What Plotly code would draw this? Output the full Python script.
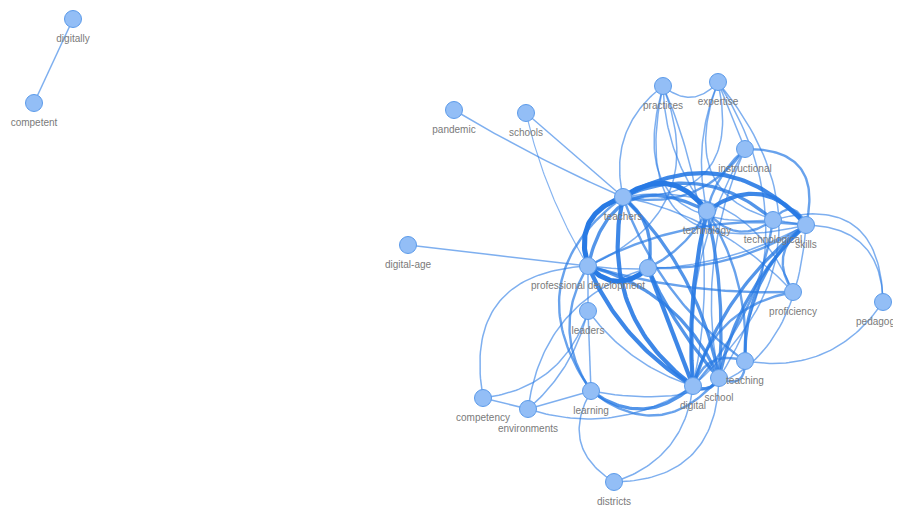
import numpy as np
import plotly.graph_objects as go

# Node layout (positions)
node_names = ["digitally", "competent", "pandemic", "schools", "practices", "expertise",
              "instructional", "teachers", "technology", "technological", "skills",
              "digital-age", "professional", "development", "proficiency", "pedagogical",
              "leaders", "teaching", "school", "digital", "learning", "competency",
              "environments", "districts"]
node_x = [72, 33, 453, 525, 662, 717, 744, 622, 706, 772, 805, 407, 587, 647, 792, 882,
          587, 744, 718, 692, 590, 482, 527, 613]
node_y = [18, 102, 109, 112, 85, 81, 148, 196, 210, 219, 224, 244, 265, 267, 291, 301,
          310, 360, 377, 385, 390, 397, 408, 481]
node_labels = ["digitally", "competent", "pandemic", "schools", "practices", "expertise",
               "instructional", "teachers", "technology", "technological", "skills",
               "digital-age", "professional development", "", "proficiency", "pedagogical",
               "leaders", "teaching", "school", "digital", "learning", "competency",
               "environments", "districts"]

# Edges: source, target, weight, curvature
edge_src = ["digitally", "pandemic", "schools", "schools", "digital-age", "competency",
            "competency", "environments", "environments", "environments", "environments",
            "learning", "digital", "school", "learning", "learning", "learning", "learning",
            "leaders", "leaders", "leaders", "professional", "professional", "professional",
            "professional", "professional", "professional", "professional", "development",
            "development", "development", "development", "development", "teachers",
            "teachers", "teachers", "teachers", "teachers", "teachers", "technology",
            "technology", "technology", "technology", "technology", "skills", "skills",
            "skills", "skills", "skills", "technological", "proficiency", "proficiency",
            "digital", "digital", "school", "pedagogical", "pedagogical", "pedagogical",
            "practices", "practices", "practices", "practices", "practices", "practices",
            "expertise", "expertise", "expertise", "expertise", "expertise",
            "instructional", "instructional", "instructional", "instructional",
            "instructional", "competency", "practices", "expertise", "learning",
            "professional", "teachers"]
edge_tgt = ["competent", "teachers", "teachers", "professional", "professional",
            "environments", "professional", "learning", "leaders", "digital",
            "development", "districts", "districts", "districts", "digital",
            "professional", "teachers", "school", "professional", "digital", "learning",
            "development", "teachers", "digital", "school", "technology", "skills",
            "proficiency", "digital", "school", "teachers", "technology", "skills",
            "technology", "skills", "digital", "school", "teaching", "technological",
            "skills", "digital", "school", "technological", "teaching", "digital",
            "school", "teaching", "proficiency", "technological", "digital", "digital",
            "teachers", "school", "teaching", "teaching", "skills", "teaching",
            "technological", "expertise", "teachers", "technology", "digital", "skills",
            "professional", "instructional", "technology", "skills", "teachers", "school",
            "teachers", "technology", "skills", "digital", "school", "leaders",
            "technological", "digital", "skills", "skills", "proficiency"]
edge_w = [1, 1, 1, 0.6, 1, 1, 1, 1, 1, 1, 1, 1, 1, 1, 3, 2, 2, 2, 1, 1, 1, 5, 5, 4, 3, 3,
          2, 2, 4, 3, 3, 2, 2, 5, 4, 4, 3, 2, 3, 4, 4, 3, 2, 2, 3, 3, 3, 2, 2, 2, 2, 1, 3,
          2, 2, 1, 1, 1, 1, 1, 1, 1, 1, 1, 1, 1, 1, 1, 1, 2, 2, 2, 1, 1, 1,
          1, 1, 1, 1, 1]
edge_c = [0, 0.02, 0, 0.05, 0, 0, -0.35, 0, 0.1, 0.15, -0.2, 0.3, -0.2, -0.3, 0.25, -0.2,
          -0.3, 0.3, 0, 0.1, 0, 0.3, -0.3, 0.1, -0.15, -0.4, -0.1, 0.05, 0, 0.05, 0.2, 0.1,
          0.1, -0.3, -0.25, 0.2, -0.1, 0.1, -0.2, -0.3, 0.05, -0.05, 0.3, -0.1, 0.1, 0.1,
          0.15, 0.3, 0.5, -0.1, 0.2, 0.1, 0.3, -0.3, 0.5, 0.3, -0.2, 0.4, 0.3, 0.2, 0.1,
          -0.1, 0.5, -0.3, 0, 0.1, 0.4, -0.4, -0.2, -0.2, 0.1, -0.4, 0.1, 0.1, 0.2,
          0.45, -0.3, 0.35, 0.1, -0.25]
curve_gain = 1.6
label_gap = 20

pos = {n: (x, y) for n, x, y in zip(node_names, node_x, node_y)}

fig = go.Figure()
t = np.linspace(0, 1, 50)
for s, d, w, c in zip(edge_src, edge_tgt, edge_w, edge_c):
    x0, y0 = pos[s]
    x1, y1 = pos[d]
    mx, my = (x0 + x1) / 2, (y0 + y1) / 2
    dx, dy = x1 - x0, y1 - y0
    cc = c * curve_gain
    cx, cy = mx - cc * dy, my + cc * dx
    bx = (1 - t) ** 2 * x0 + 2 * (1 - t) * t * cx + t ** 2 * x1
    by = (1 - t) ** 2 * y0 + 2 * (1 - t) * t * cy + t ** 2 * y1
    alpha = 0.5 + 0.1 * w
    fig.add_trace(go.Scatter(x=bx, y=by, mode="lines", hoverinfo="skip",
                             line=dict(color=f"rgba(40,122,228,{min(alpha,1):.2f})",
                                       width=0.6 + w * 0.9),
                             showlegend=False))

fig.add_trace(go.Scatter(x=node_x, y=node_y, mode="markers",
                         marker=dict(size=17, color="#93BEF6",
                                     line=dict(color="#5C9BEA", width=1)),
                         showlegend=False, hovertext=node_names, hoverinfo="text"))
fig.add_trace(go.Scatter(x=node_x, y=[v + label_gap for v in node_y], mode="text",
                         text=node_labels, textposition="middle center",
                         textfont=dict(family="Liberation Sans", size=10, color="#7a7a7a"),
                         showlegend=False, hoverinfo="skip"))

fig.update_layout(width=901, height=506, margin=dict(l=0, r=0, t=0, b=0),
                  paper_bgcolor="white", plot_bgcolor="white",
                  xaxis=dict(range=[7, 908], visible=False),
                  yaxis=dict(range=[513, 7], visible=False))
fig.write_html("out.html")
